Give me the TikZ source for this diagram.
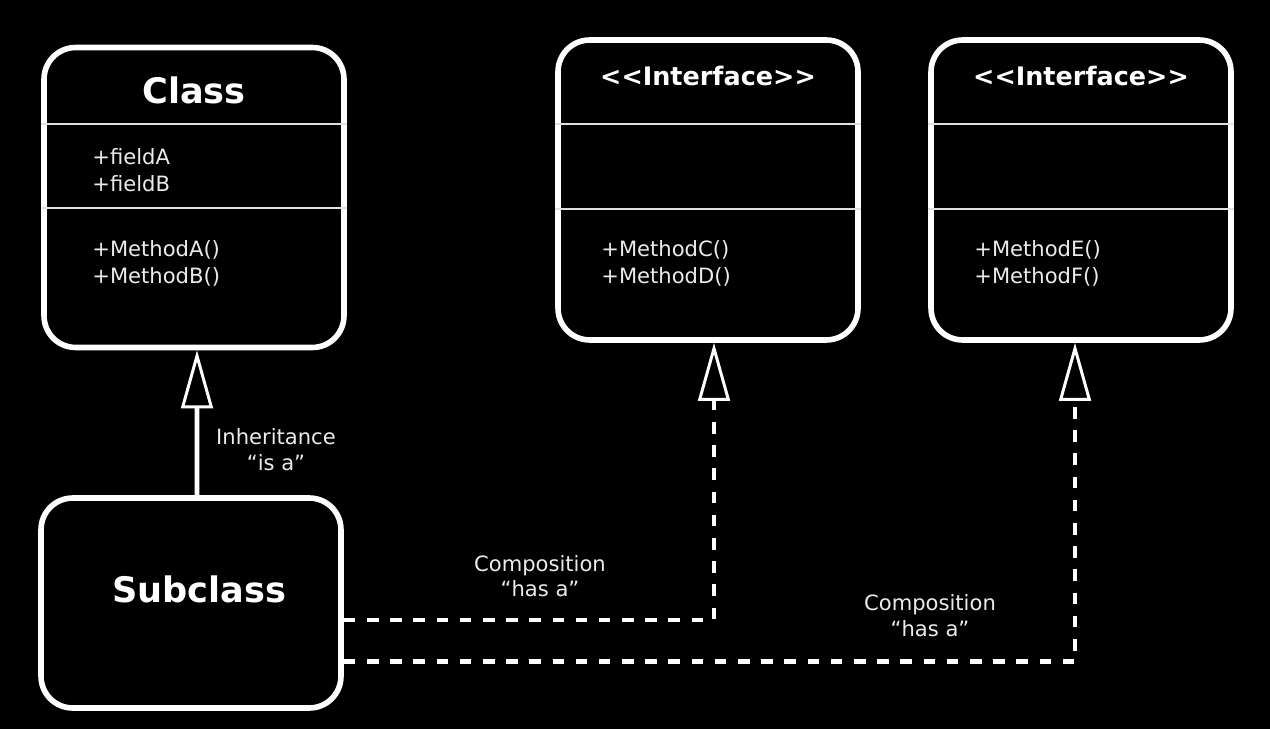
\documentclass[tikz,border=0pt]{standalone}
\usepackage{fontspec}
\setmainfont{DejaVu Sans}
\usepackage{tikz}
\usetikzlibrary{arrows.meta}

\begin{document}
\begin{tikzpicture}[x=0.02cm, y=-0.02cm,
		umlbox/.style={draw=white, line width=3.2pt, rounded corners=18pt, minimum width=6cm},
		sepline/.style={draw=white!88!black, line width=1.6pt},
		title/.style={text=white, font=\bfseries\fontsize{20}{24}\selectfont},
		ititle/.style={text=white, font=\bfseries\fontsize{14.5}{17}\selectfont},
		member/.style={text=white!92!black, font=\fontsize{12}{15}\selectfont, anchor=base west, inner sep=0pt},
		lbl/.style={text=white!92!black, font=\fontsize{12}{15}\selectfont, anchor=base, inner sep=0pt},
		link/.style={draw=white, line width=2.6pt, -{Triangle[open, length=33pt, width=18pt, line width=1.7pt]}},
		hasa/.style={link, dash pattern=on 6.6pt off 6.6pt}]
		%%%%% START %%%%%
		\fill[black] (0, 0) rectangle (1270, 729);
		
		\node[umlbox, minimum height=6cm] (cls) at (194, 197.5) {};
		\draw[sepline] (cls.west |- 0, 124) -- (cls.east |- 0, 124);
		\draw[sepline] (cls.west |- 0, 208) -- (cls.east |- 0, 208);
		\node[title] (clsname) at (194, 90) {Class};
		\node[member] (fa) at (92, 165) {+fieldA};
		\node[member] (fb) at (92, 191.7) {+fieldB};
		\node[member] (ma) at (92, 256.7) {+MethodA()};
		\node[member] (mb) at (92, 283.3) {+MethodB()};
		
		\node[umlbox, minimum height=6cm] (ifa) at (708, 190) {};
		\draw[sepline] (ifa.west |- 0, 124) -- (ifa.east |- 0, 124);
		\draw[sepline] (ifa.west |- 0, 209) -- (ifa.east |- 0, 209);
		\node[ititle] (ifaname) at (708, 76) {<{}<Interface>{}>};
		\node[member] (mc) at (601, 256.7) {+MethodC()};
		\node[member] (md) at (601, 283.3) {+MethodD()};
		
		\node[umlbox, minimum height=6cm] (ifb) at (1081, 190) {};
		\draw[sepline] (ifb.west |- 0, 124) -- (ifb.east |- 0, 124);
		\draw[sepline] (ifb.west |- 0, 209) -- (ifb.east |- 0, 209);
		\node[ititle] (ifbname) at (1081, 76) {<{}<Interface>{}>};
		\node[member] (me) at (974, 256.7) {+MethodE()};
		\node[member] (mf) at (974, 283.3) {+MethodF()};
		
		\node[umlbox, minimum height=4.2cm] (sub) at (191, 603) {};
		\node[title] (subname) at (199, 589) {Subclass};
		
		\draw[link] ([xshift=0.12cm]sub.north) -- ([xshift=0.06cm]cls.south);
		\node[lbl] (inh) at (276, 444) {Inheritance};
		\node[lbl] (inhisa) at (276, 470) {“is a”};
		
		\draw[hasa] ([yshift=-0.34cm]sub.east) -| ([xshift=0.12cm]ifa.south);
		\node[lbl] (compa) at (540, 571.7) {Composition};
		\node[lbl] (compahas) at (540, 596.7) {“has a”};
		
		\draw[hasa] ([yshift=-1.17cm]sub.east) -| ([xshift=-0.12cm]ifb.south);
		\node[lbl] (compb) at (930, 610.7) {Composition};
		\node[lbl] (compbhas) at (930, 636.7) {“has a”};
		%%%%% END %%%%%
	\end{tikzpicture}
\end{document}
